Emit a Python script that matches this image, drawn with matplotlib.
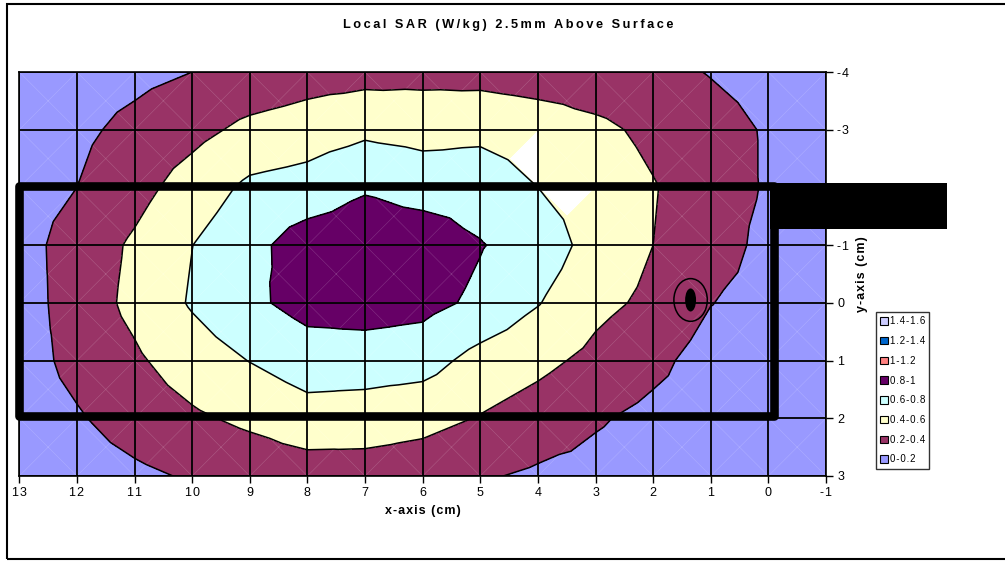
import numpy as np
import matplotlib
matplotlib.use("Agg")
import matplotlib.pyplot as plt
import matplotlib.tri as mtri
from matplotlib.patches import Rectangle, Ellipse, Patch

plt.rcParams['font.family'] = ['Liberation Sans', 'DejaVu Sans']
plt.rcParams['axes.unicode_minus'] = False

x_cm = [13, 12, 11, 10, 9, 8, 7, 6, 5, 4, 3, 2, 1, 0, -1]
y_cm = [-4, -3, -2, -1, 0, 1, 2, 3]
sar_y_m4 = [0.08, 0.11, 0.15, 0.20, 0.25, 0.31, 0.33, 0.34, 0.33, 0.30, 0.29, 0.26, 0.19, 0.13, 0.09]
sar_y_m3 = [0.10, 0.16, 0.25, 0.34, 0.45, 0.50, 0.56, 0.53, 0.55, 0.51, 0.44, 0.36, 0.28, 0.18, 0.12]
sar_y_m2 = [0.12, 0.20, 0.33, 0.49, 0.64, 0.68, 0.78, 0.72, 0.72, 0.60, 0.50, 0.41, 0.30, 0.18, 0.12]
sar_y_m1 = [0.13, 0.28, 0.43, 0.598, 0.74, 0.90, 0.93, 0.92, 0.81, 0.72, 0.52, 0.40, 0.30, 0.14, 0.10]
sar_y_0 = [0.11, 0.29, 0.45, 0.62, 0.76, 0.87, 0.89, 0.86, 0.76, 0.61, 0.45, 0.36, 0.205, 0.13, 0.09]
sar_y_1 = [0.11, 0.26, 0.37, 0.50, 0.605, 0.70, 0.70, 0.68, 0.53, 0.45, 0.35, 0.25, 0.12, 0.10, 0.07]
sar_y_2 = [0.09, 0.18, 0.29, 0.37, 0.44, 0.52, 0.50, 0.46, 0.39, 0.31, 0.22, 0.15, 0.10, 0.07, 0.05]
sar_y_3 = [0.06, 0.10, 0.16, 0.22, 0.27, 0.30, 0.31, 0.29, 0.22, 0.17, 0.14, 0.10, 0.07, 0.05, 0.04]

levels = [0, 0.2, 0.4, 0.6, 0.8, 1.0, 1.2, 1.4, 1.6]
band_labels = ['0-0.2', '0.2-0.4', '0.4-0.6', '0.6-0.8', '0.8-1', '1-1.2', '1.2-1.4', '1.4-1.6']
band_colors = ['#9999FF', '#993366', '#FFFFCC', '#CCFFFF', '#660066', '#FF8080', '#0066CC', '#CCCCFF']

# (row, col, triangle) where Excel left the 0.4-0.6 band unpainted
blank_tris = [(1, 8, 1), (2, 9, 0)]


def spaced(s, sp='\u200a'):
    # Excel draws its chart text with extra letter spacing
    return sp.join(s)


# --- build Excel-like triangulation: each cell split into 4 around its centre
Z = np.array([sar_y_m4, sar_y_m3, sar_y_m2, sar_y_m1, sar_y_0, sar_y_1, sar_y_2, sar_y_3])
X, Y = np.meshgrid(x_cm, y_cm)
ny, nx = Z.shape
cx = (X[:-1, :-1] + X[1:, 1:]) / 2
cy = (Y[:-1, :-1] + Y[1:, 1:]) / 2
cz = (Z[:-1, :-1] + Z[1:, :-1] + Z[:-1, 1:] + Z[1:, 1:]) / 4
px = np.concatenate([X.ravel(), cx.ravel()]).astype(float)
py = np.concatenate([Y.ravel(), cy.ravel()]).astype(float)
pz = np.concatenate([Z.ravel(), cz.ravel()])

tris = []
blank = []
for i in range(ny - 1):
    for j in range(nx - 1):
        a = i*nx + j
        b = i*nx + j + 1
        c = (i+1)*nx + j + 1
        d = (i+1)*nx + j
        m = ny*nx + i*(nx-1) + j
        for k, t in enumerate([(a, b, m), (b, c, m), (c, d, m), (d, a, m)]):
            tris.append(t)
            blank.append((i, j, k) in blank_tris)
tris = np.array(tris)
blank = np.array(blank)

tri_all = mtri.Triangulation(px, py, tris)
tri_main = mtri.Triangulation(px, py, tris, mask=blank)
tri_blank = mtri.Triangulation(px, py, tris, mask=~blank)

fig = plt.figure(figsize=(10.05, 5.61), dpi=100)
ax = fig.add_axes([19.3/1005, 1-476/561, (826-19.3)/1005, (476-72)/561])

ax.tricontourf(tri_main, pz, levels=levels, colors=band_colors, zorder=1)
ax.tricontourf(tri_blank, pz, levels=[0.6, 0.8], colors=[band_colors[3]], zorder=1)
ax.triplot(tri_all, color='white', lw=0.4, alpha=0.2, zorder=1.2)
ax.tricontour(tri_all, pz, levels=[0.2, 0.4, 0.6, 0.8], colors='black', linewidths=1.1, zorder=3)

ax.set_xlim(13, -1)
ax.set_ylim(3, -4)
ax.set_xticks(x_cm)
ax.set_xticklabels([spaced(str(v)) for v in x_cm])
ax.set_yticks(y_cm)
ax.set_yticklabels([spaced(str(v)) for v in y_cm])
ax.grid(True, color='black', lw=1.3)
ax.set_axisbelow(False)
for s in ax.spines.values():
    s.set_color('black')
    s.set_linewidth(1.2)
ax.yaxis.tick_right()
ax.yaxis.set_label_position('right')
ax.tick_params(axis='both', length=5, width=1, labelsize=9, pad=3, color='black')
ax.set_xlabel(spaced('x-axis (cm)'), fontsize=9, fontweight='bold', labelpad=4)
ax.set_ylabel(spaced('y-axis (cm)'), fontsize=9, fontweight='bold', labelpad=5)

# phone outline, antenna block and feed point
ax.add_patch(Rectangle((13.0, -2.02), -13.1, 3.98, fill=False, ec='black', lw=6.2,
                       joinstyle='round', clip_on=False, zorder=5))
ax.add_patch(Rectangle((-0.02, -2.08), -3.08, 0.8, fc='black', ec='none', clip_on=False, zorder=5))
ax.add_patch(Ellipse((1.35, -0.05), 0.58, 0.74, fill=False, ec='black', lw=1.1, zorder=5))
ax.add_patch(Ellipse((1.35, -0.05), 0.19, 0.40, fc='black', ec='none', zorder=5))

handles = [Patch(facecolor=c, edgecolor='black', lw=0.8, label=spaced(l))
           for c, l in zip(band_colors, band_labels)][::-1]
leg = fig.legend(handles=handles, loc='upper left', bbox_to_anchor=(876/1005, 1-312/561),
                 fontsize=7, frameon=True, fancybox=False, edgecolor='black',
                 handlelength=0.8, handleheight=0.8, handletextpad=0.15,
                 labelspacing=1.0, borderpad=0.45, borderaxespad=0)
leg.get_frame().set_linewidth(1.0)

fig.text(0.506, 1-25/561, spaced('Local SAR (W/kg) 2.5mm Above Surface', '\u2009'),
         ha='center', va='center', fontsize=9.2, fontweight='bold')

# chart border
fig.patches.append(Rectangle((7/1005, 1-559/561), 1.05, (559-4)/561, transform=fig.transFigure,
                             fill=False, ec='black', lw=1.5, figure=fig))

fig.savefig('out.png', dpi=100)
